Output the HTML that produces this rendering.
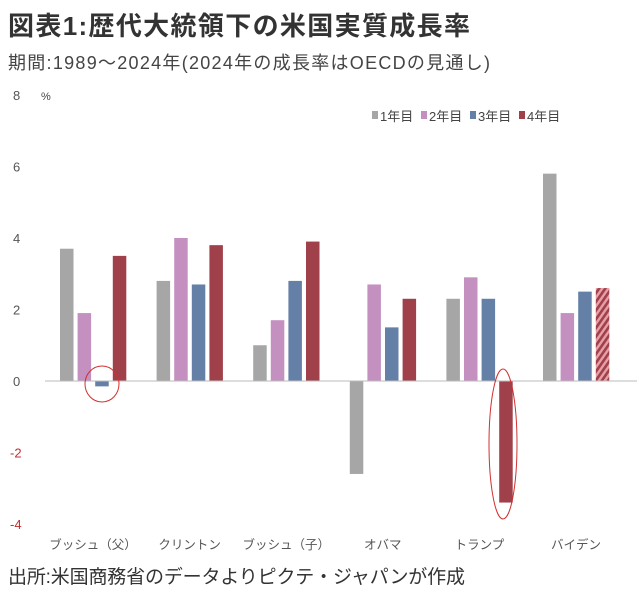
<!DOCTYPE html>
<html><head><meta charset="utf-8"><style>
body{margin:0;background:#fff;width:639px;height:593px;overflow:hidden}
svg{display:block;font-family:"Liberation Sans","Noto Sans CJK JP",sans-serif}
</style></head><body>
<svg id="c" width="639" height="593">
<defs><pattern id="hatch" width="5" height="5" patternUnits="userSpaceOnUse" patternTransform="rotate(35)"><rect width="5" height="5" fill="#e8a0a8"/><rect width="2.6" height="5" fill="#a0404a"/></pattern></defs>
<text x="8" y="35" font-size="26" font-weight="bold" fill="#333" textLength="462">図表1:歴代大統領下の米国実質成長率</text>
<text x="8" y="69" font-size="18" fill="#444" textLength="482">期間:1989～2024年(2024年の成長率はOECDの見通し)</text>
<text x="8" y="583" font-size="19" fill="#333" textLength="457">出所:米国商務省のデータよりピクテ・ジャパンが作成</text>
<text x="41" y="100" font-size="11" fill="#444">%</text>
<g id="ticks"></g><g id="bars"></g><g id="cats"></g><g id="legend"></g>
<line x1="45" y1="381" x2="637" y2="381" stroke="#bbb"/>
<ellipse cx="102" cy="384" rx="17" ry="18" fill="none" stroke="#d03030"/>
<ellipse cx="503" cy="444" rx="14" ry="75" fill="none" stroke="#d03030"/>
</svg>
<script>
const categories=["ブッシュ（父）","クリントン","ブッシュ（子）","オバマ","トランプ","バイデン"];
const seriesNames=["1年目","2年目","3年目","4年目"];
const year1=[3.7,2.8,1.0,-2.6,2.3,5.8];
const year2=[1.9,4.0,1.7,2.7,2.9,1.9];
const year3=[-0.15,2.7,2.8,1.5,2.3,2.5];
const year4=[3.5,3.8,3.9,2.3,-3.4,2.6];
const yTicks=[8,6,4,2,0,-2,-4];
const colors=["#a6a6a6","#c390c0","#6480a6","#a0404a"];
const series=[year1,year2,year3,year4];
const NS="http://www.w3.org/2000/svg";
const y=v=>381-v*35.75;
const gx=i=>60+i*96.6;
function mk(t,a,p){const e=document.createElementNS(NS,t);for(const k in a)e.setAttribute(k,a[k]);document.getElementById(p).appendChild(e);return e;}
yTicks.forEach(v=>{const t=mk("text",{x:v<0?10:13,y:y(v)+5,"font-size":13,fill:v<0?"#c03030":"#555"},"ticks");t.textContent=String(v);

});
categories.forEach((c,i)=>{series.forEach((s,j)=>{const v=s[i];const r=mk("rect",{x:gx(i)+j*17.6,y:Math.min(y(v),y(0)),width:13.5,height:Math.abs(y(v)-y(0)),fill:(i===5&&j===3)?"url(#hatch)":colors[j]},"bars");

});
const t=mk("text",{x:gx(i)+33,y:549,"font-size":12.5,fill:"#555","text-anchor":"middle"},"cats");t.textContent=c;

});
seriesNames.forEach((n,j)=>{const lx=372+j*49;const r=mk("rect",{x:lx,y:111,width:6,height:8,fill:colors[j]},"legend");


const t=mk("text",{x:lx+8,y:121,"font-size":13,fill:"#444"},"legend");t.textContent=n;

});
</script>
</body></html>
